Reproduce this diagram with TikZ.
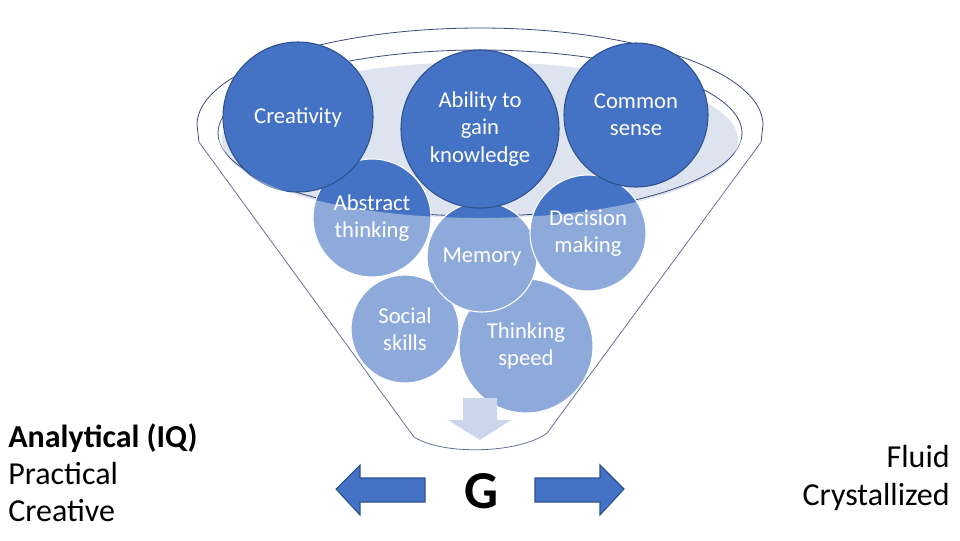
\documentclass[tikz,border=0pt]{standalone}
\usepackage{fontspec}
\setmainfont{Carlito}
\definecolor{ballblue}{HTML}{4472C4}
\definecolor{ballline}{HTML}{2F528F}
\definecolor{rimfill}{HTML}{DEE3F0}
\definecolor{dropfill}{HTML}{CDD5EC}
\definecolor{rimline}{HTML}{3B4A7A}

\begin{document}
\begin{tikzpicture}[
    x=0.75pt, y=-0.75pt,     % 1px = 0.75pt, y grows downwards
    bigball/.style={circle, fill=ballblue, draw=ballline, line width=0.8pt,
        text=white, align=center, inner sep=0pt,
        font=\fontsize{17}{20.5}\selectfont},
    smallball/.style={bigball, draw=white},
    rim/.style={draw=rimline, line width=0.6pt},
    sidearrow/.style={fill=ballblue, draw=ballline, line width=0.8pt},
    side/.style={font=\fontsize{24}{28}\selectfont, inner sep=0pt}
]
    \useasboundingbox (0,0) rectangle (960,540);

    % --- 1. Funnel rim ---
    \fill[rimfill] (480,140) ellipse [x radius=258, y radius=78];
    \draw[rim] (414,437) -- (199,142) -- (197,125)
        arc[start angle=180, end angle=360, x radius=283, y radius=97]
        -- (761,142) -- (547,433)
        .. controls (520,453) and (445,456) .. cycle;
    \draw[rim] (480,133) ellipse [x radius=262, y radius=83];

    % --- 2. Lower balls ---
    \node[smallball, minimum size=81pt] (social) at (405,329) {Social\\skills};
    \node[smallball, minimum size=100.5pt] (speed) at (526,346) {Thinking\\speed};
    \node[smallball, minimum size=82.5pt] (memory) at (482,257) {Memory};
    \node[smallball, minimum size=88.5pt] (abstract) at (372,218) {Abstract\\thinking};
    \node[smallball, minimum size=87pt] (decision) at (588,233) {Decision\\making};

    % --- 3. Upper balls ---
    \node[bigball, minimum size=112.5pt] (creativity) at (298,117) {Creativity};
    \node[bigball, minimum size=108pt] (common) at (636,115) {Common\\sense};
    \node[bigball, minimum size=118.5pt] (ability) at (480,129) {Ability to\\gain\\knowledge};

    % --- 4. Funnel body (white veil over the lower part) ---
    \fill[white, opacity=0.4] (222,140)
        arc[start angle=180, end angle=0, x radius=258, y radius=78]
        -- (761,142) -- (547,433)
        .. controls (520,453) and (445,456) .. (414,437)
        -- (199,142) -- cycle;

    % down arrow
    \fill[dropfill] (463,398) -- (497,398) -- (497,420) -- (511,420)
        -- (480,440) -- (448,420) -- (463,420) -- cycle;

    % --- 5. G and side arrows ---
    \node[font=\fontsize{40}{40}\selectfont\bfseries, inner sep=0pt] (G) at (481,491) {G};
    \draw[sidearrow] (425,478) -- (425,502) -- (360,502) -- (360,515)
        -- (336,489) -- (360,465) -- (360,478) -- cycle;
    \draw[sidearrow] (535,478) -- (600,478) -- (600,465) -- (624,489)
        -- (600,515) -- (600,502) -- (535,502) -- cycle;

    % --- 6. Side texts ---
    \node[side, anchor=base west] (iq) at (8,447) {\textbf{Analytical (IQ)}};
    \node[side, anchor=base west] (practical) at (8,484) {Practical};
    \node[side, anchor=base west] (creative) at (8,521) {Creative};
    \node[side, anchor=base east] (fluid) at (950,467) {Fluid};
    \node[side, anchor=base east] (crystal) at (950,505) {Crystallized};

\end{tikzpicture}
\end{document}
